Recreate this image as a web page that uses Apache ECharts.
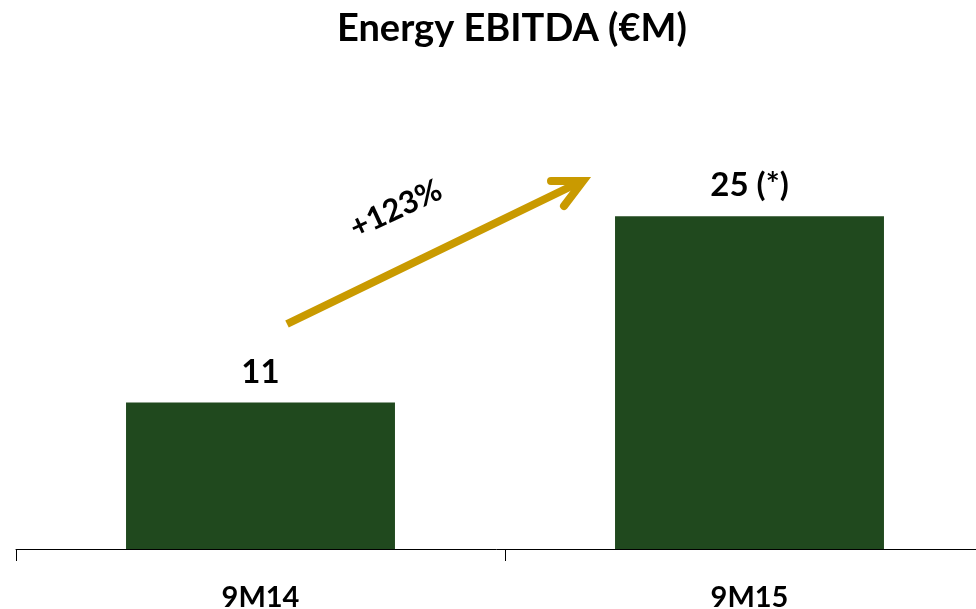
<!DOCTYPE html>
<html>
<head>
<meta charset="utf-8">
<script src="https://cdn.jsdelivr.net/npm/echarts@6/dist/echarts.min.js"></script>
<style>
  html, body { margin: 0; padding: 0; background: #ffffff; }
  #chart { width: 976px; height: 609px; }
</style>
</head>
<body>
<div id="chart"></div>
<script>
// Energy EBITDA, €M
const categories = ['9M14', '9M15'];
const ebitda = [11, 25];
const valueLabels = ['11', '25 (*)'];
const growthText = '+123%';

const FONT = 'Lato, "Open Sans", sans-serif';
const WEIGHT = 'bold';
const GREEN = '#20491e';
const GOLD = '#c99a00';

const chart = echarts.init(document.getElementById('chart'), null, { renderer: 'canvas' });

chart.setOption({
  animation: false,
  backgroundColor: '#ffffff',
  title: {
    text: 'Energy EBITDA (€M)',
    left: 332,
    top: 5,
    textStyle: { fontFamily: FONT, fontWeight: WEIGHT, fontSize: 38, color: '#000000' }
  },
  grid: { left: 16, width: 978, top: 83, bottom: 60, containLabel: false, outerBoundsMode: 'none' },
  xAxis: {
    type: 'category',
    data: categories,
    axisLine: { lineStyle: { color: '#000000', width: 1 } },
    axisTick: { show: true, length: 12, lineStyle: { color: '#000000' } },
    axisLabel: {
      margin: 34,
      fontFamily: FONT, fontWeight: WEIGHT, fontSize: 29, color: '#000000'
    }
  },
  yAxis: {
    type: 'value',
    min: 0,
    max: 35,
    show: false,
    splitLine: { show: false }
  },
  series: [{
    type: 'bar',
    data: ebitda,
    barWidth: '55%',
    itemStyle: { color: GREEN },
    label: {
      show: true,
      position: 'top',
      distance: 14,
      formatter: (p) => valueLabels[p.dataIndex],
      fontFamily: FONT, fontWeight: WEIGHT, fontSize: 33, color: '#000000'
    }
  }],
  // growth arrow between the two periods
  graphic: [
    {
      type: 'line',
      shape: { x1: 287, y1: 324, x2: 580, y2: 182 },
      style: { stroke: GOLD, lineWidth: 8, lineCap: 'butt' }
    },
    {
      type: 'polyline',
      shape: { points: [[551, 181], [583, 181], [564, 206]] },
      style: { stroke: GOLD, lineWidth: 8, lineCap: 'round', lineJoin: 'miter', fill: null }
    },
    {
      type: 'text',
      x: 396,
      y: 209,
      rotation: 25 * Math.PI / 180,
      style: {
        text: growthText,
        fontFamily: FONT, fontWeight: WEIGHT, fontSize: 31, fill: '#000000',
        align: 'center', verticalAlign: 'middle'
      }
    }
  ]
});
</script>
</body>
</html>
